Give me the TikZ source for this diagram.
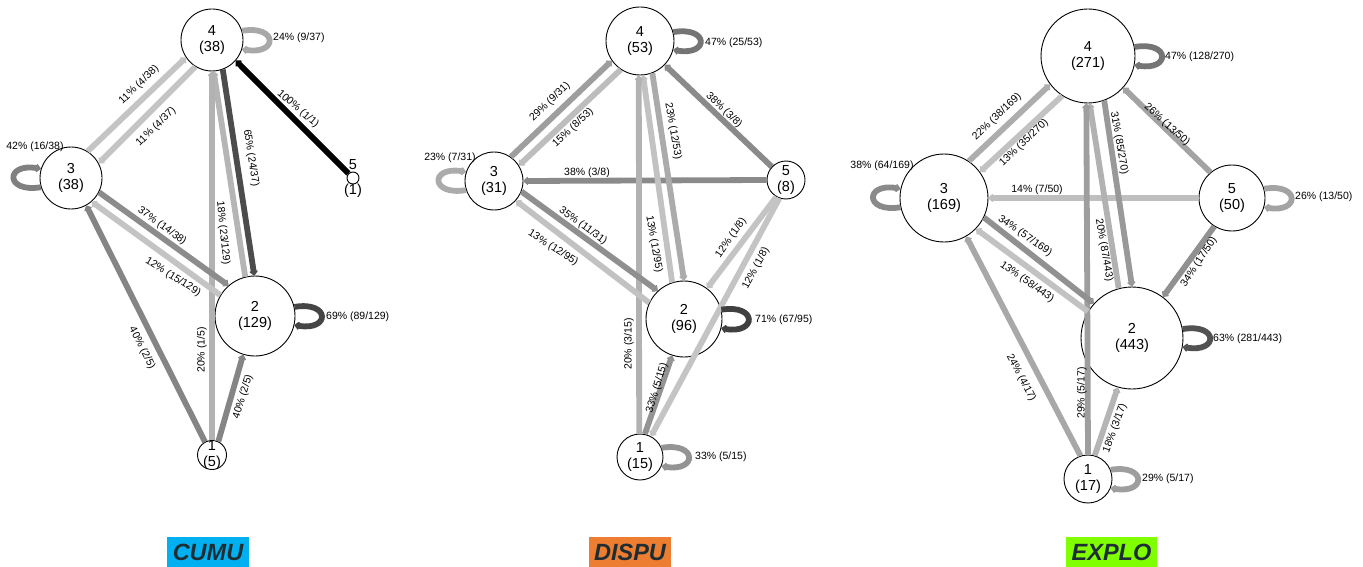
\documentclass[tikz,border=0pt]{standalone}
\usepackage{fontspec}
\setmainfont{Liberation Sans}
\usetikzlibrary{arrows.meta}
\definecolor{cumublue}{HTML}{00B0F0}
\definecolor{dispuorange}{HTML}{ED7D31}
\definecolor{explogreen}{HTML}{80FF00}
\definecolor{titletext}{HTML}{1E2D33}
\newcommand\rloopx[3]{\draw[e=#3] (#1.#2) .. controls +(36,-6) and +(36,6) .. (#1.-#2);}
\begin{document}
\begin{tikzpicture}[x=1pt,y=-1pt,
  circ/.style={circle,draw=black,line width=0.9pt,fill=white,inner sep=0pt,minimum size=#1},
  ntext/.style={align=center,font=\fontsize{14.5}{15.5}\selectfont,inner sep=0pt},
  lab/.style={font=\fontsize{10.5}{12}\selectfont,inner sep=0pt},
  e/.style={-{Triangle[round,length=5pt,width=9.5pt,line width=2pt]}, line width=5.8pt, draw=black!#1},
  titlebox/.style={minimum height=30pt,inner xsep=5.5pt,inner ysep=0pt,
    font=\fontsize{23.5}{24}\selectfont\bfseries\itshape,text=titletext}]
\useasboundingbox (0,0) rectangle (1363,567);

% ---------------- CUMU ----------------
\node[circ=62pt] (c4) at (212,40) {};
\node[circ=62pt] (c3) at (71,178) {};
\node[circ=80pt] (c2) at (255,316) {};
\node[circ=29pt] (c1) at (212,455) {};
\node[circ=12pt] (c5) at (353,178) {};
\node[ntext] (c4t) at (c4) {4\\(38)};
\node[ntext] (c3t) at (c3) {3\\(38)};
\node[ntext] (c2t) at (c2) {2\\(129)};
\node[ntext] (c1t) at (c1) {1\\(5)};
\node[ntext] (c5a) at (353,165) {5};
\node[ntext] (c5b) at (353,191) {(1)};

\draw[e=23] (c3.58) -- (c4.214);
\draw[e=23] (c4.238) -- (c3.28);
\draw[e=100] (c5) -- (c4.319);
\draw[e=70] (c4.290) -- (c2.91);
\draw[e=29] (c2.104) -- (c4.273);
\draw[e=30] (c1.90) -- (c4.270);
\draw[e=45] (c3.333) -- (c2.131);
\draw[e=23] (c2.149) -- (c3.311);
\draw[e=48] (c1.118) -- (c3.299);
\draw[e=48] (c1.65) -- (c2.253);
\rloopx{c4}{17}{34}
\draw[e=50] (c3.197) .. controls +(-36,6) and +(-36,-6) .. (c3.163);
\rloopx{c2}{13}{73}

\node[lab,rotate=44] (cl1) at (139,85) {11\% (4/38)};
\node[lab,rotate=44] (cl2) at (156,127) {11\% (4/37)};
\node[lab,rotate=-41] (cl3) at (298,109) {100\% (1/1)};
\node[lab,rotate=-81] (cl4) at (251,158) {65\% (24/37)};
\node[lab,rotate=-84] (cl5) at (223,233) {18\% (23/129)};
\node[lab,rotate=-36] (cl6) at (162,226) {37\% (14/38)};
\node[lab,rotate=-32] (cl7) at (173,277) {12\% (15/129)};
\node[lab,rotate=-63] (cl8) at (142,348) {40\% (2/5)};
\node[lab,rotate=90] (cl9) at (202,350) {20\% (1/5)};
\node[lab,rotate=73] (cl10) at (243,397) {40\% (2/5)};
\node[lab,anchor=west] (cl11) at (273,38) {24\% (9/37)};
\node[lab] (cl12) at (35,147) {42\% (16/38)};
\node[lab,anchor=west] (cl13) at (326,317) {69\% (89/129)};

% ---------------- DISPU ----------------
\node[circ=68pt] (d4) at (640,41) {};
\node[circ=58pt] (d3) at (494,181) {};
\node[circ=38pt] (d5) at (786,180) {};
\node[circ=76pt] (d2) at (684,319) {};
\node[circ=46pt] (d1) at (640,457) {};
\node[ntext] (d4t) at (d4) {4\\(53)};
\node[ntext] (d3t) at (d3) {3\\(31)};
\node[ntext] (d5t) at (d5) {5\\(8)};
\node[ntext] (d2t) at (d2) {2\\(96)};
\node[ntext] (d1t) at (d1) {1\\(15)};

\draw[e=38] (d3.55) -- (d4.215);
\draw[e=26] (d4.236) -- (d3.32);
\draw[e=46] (d5.137) -- (d4.316);
\draw[e=46] (d5.180) -- (d3.0);
\draw[e=33] (d4.291) -- (d2.90);
\draw[e=24] (d2.108) -- (d4.275);
\draw[e=30] (d1.92) -- (d4.268);
\draw[e=44] (d3.339) -- (d2.133);
\draw[e=24] (d2.155) -- (d3.318);
\draw[e=23] (d5.240) -- (d2.53);
\draw[e=23] (d5.250) -- (d1.62);
\draw[e=42] (d1.78) -- (d2.252);
\rloopx{d4}{15}{54}
\draw[e=33] (d3.198) .. controls +(-36,6) and +(-36,-6) .. (d3.162);
\rloopx{d2}{14}{75}
\rloopx{d1}{23}{42}

\node[lab,rotate=44] (dl1) at (550,102) {29\% (9/31)};
\node[lab,rotate=43] (dl2) at (573,128) {15\% (8/53)};
\node[lab,rotate=-44] (dl3) at (724,110) {38\% (3/8)};
\node[lab] (dl4) at (587,173) {38\% (3/8)};
\node[lab,rotate=-80] (dl5) at (673,131) {23\% (12/53)};
\node[lab,rotate=-80] (dl6) at (654,244) {13\% (12/95)};
\node[lab,rotate=90] (dl7) at (629,344) {20\% (3/15)};
\node[lab,rotate=-36] (dl8) at (583,226) {35\% (11/31)};
\node[lab,rotate=-33] (dl9) at (553,248) {13\% (12/95)};
\node[lab,rotate=55] (dl10) at (731,238) {12\% (1/8)};
\node[lab,rotate=62] (dl11) at (756,268) {12\% (1/8)};
\node[lab,rotate=73] (dl12) at (657,388) {33\% (5/15)};
\node[lab,anchor=west] (dl13) at (705,43) {47\% (25/53)};
\node[lab] (dl14) at (450,158) {23\% (7/31)};
\node[lab,anchor=west] (dl15) at (755,320) {71\% (67/95)};
\node[lab,anchor=west] (dl16) at (695,457) {33\% (5/15)};

% ---------------- EXPLO ----------------
\node[circ=94pt] (x4) at (1088,56) {};
\node[circ=88pt] (x3) at (944,198) {};
\node[circ=66pt] (x5) at (1232,198) {};
\node[circ=102pt] (x2) at (1132,338) {};
\node[circ=48pt] (x1) at (1088,479) {};
\node[ntext] (x4t) at (x4) {4\\(271)};
\node[ntext] (x3t) at (x3) {3\\(169)};
\node[ntext] (x5t) at (x5) {5\\(50)};
\node[ntext] (x2t) at (x2) {2\\(443)};
\node[ntext] (x1t) at (x1) {1\\(17)};

\draw[e=32] (x3.56) -- (x4.217);
\draw[e=24] (x4.237) -- (x3.36);
\draw[e=36] (x5.130) -- (x4.318);
\draw[e=25] (x5.180) -- (x3.0);
\draw[e=40] (x4.290) -- (x2.90);
\draw[e=30] (x2.105) -- (x4.272);
\draw[e=38] (x1.90) -- (x4.268);
\draw[e=43] (x3.334) -- (x2.138);
\draw[e=24] (x2.149) -- (x3.316);
\draw[e=43] (x5.238) -- (x2.53);
\draw[e=34] (x1.108) -- (x3.300);
\draw[e=29] (x1.74) -- (x2.254);
\rloopx{x4}{11}{54}
\draw[e=46] (x3.192) .. controls +(-36,6) and +(-36,-6) .. (x3.168);
\rloopx{x5}{16}{36}
\rloopx{x2}{10}{68}
\rloopx{x1}{22}{38}

\node[lab,rotate=44] (xl1) at (997,117) {22\% (38/169)};
\node[lab,rotate=44] (xl2) at (1024,143) {13\% (35/270)};
\node[lab,rotate=-42] (xl3) at (1167,125) {26\% (13/50)};
\node[lab] (xl4) at (1037,190) {14\% (7/50)};
\node[lab,rotate=-80] (xl5) at (1119,143) {31\% (85/270)};
\node[lab,rotate=-80] (xl6) at (1104,250) {20\% (87/443)};
\node[lab,rotate=-35] (xl7) at (1025,236) {34\% (57/169)};
\node[lab,rotate=-35] (xl8) at (1027,282) {13\% (58/443)};
\node[lab,rotate=57] (xl9) at (1199,262) {34\% (17/50)};
\node[lab,rotate=-62] (xl10) at (1021,378) {24\% (4/17)};
\node[lab,rotate=90] (xl11) at (1082,393) {29\% (5/17)};
\node[lab,rotate=70] (xl12) at (1115,428) {18\% (3/17)};
\node[lab,anchor=west] (xl13) at (1165,57) {47\% (128/270)};
\node[lab] (xl14) at (882,166) {38\% (64/169)};
\node[lab,anchor=west] (xl15) at (1295,197) {26\% (13/50)};
\node[lab,anchor=west] (xl16) at (1213,339) {63\% (281/443)};
\node[lab,anchor=west] (xl17) at (1142,479) {29\% (5/17)};

% ---------------- titles ----------------
\node[titlebox,fill=cumublue] (tcumu) at (208,552) {CUMU};
\node[titlebox,fill=dispuorange] (tdispu) at (630,552) {DISPU};
\node[titlebox,fill=explogreen] (texplo) at (1111.5,552) {EXPLO};
\end{tikzpicture}
\end{document}
